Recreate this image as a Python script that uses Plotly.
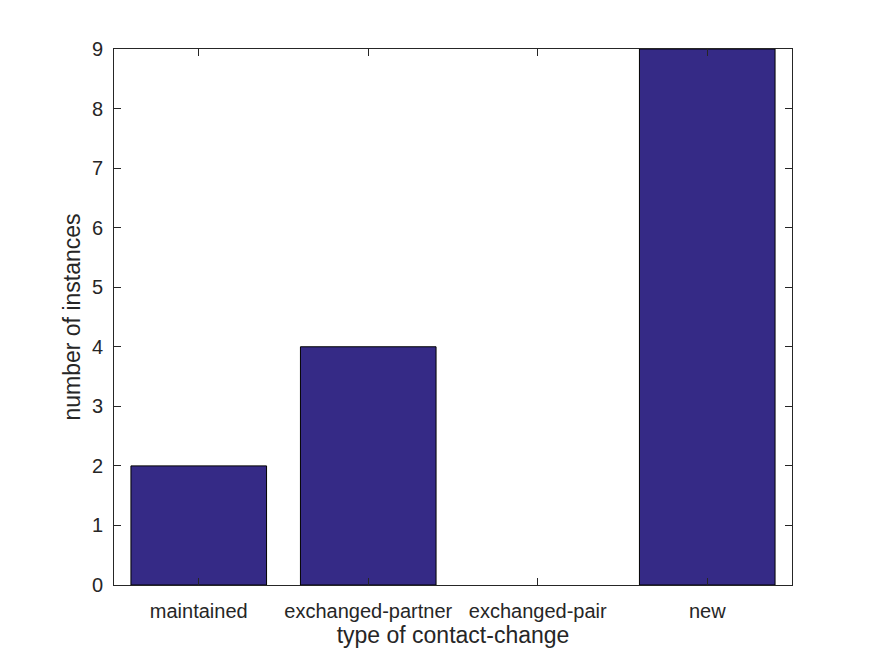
import plotly.graph_objects as go

categories = ["maintained", "exchanged-partner", "exchanged-pair", "new"]
counts = [2, 4, 0, 9]
y_ticks = [0, 1, 2, 3, 4, 5, 6, 7, 8, 9]

x_pos = list(range(1, len(categories) + 1))
edge_widths = [1 if c > 0 else 0 for c in counts]

FONT = "Liberation Sans, Arial, Helvetica, sans-serif"
TXT = "#262626"

fig = go.Figure()
fig.add_trace(go.Bar(
    x=x_pos, y=counts, width=0.8,
    marker=dict(color="#352A86", line=dict(color="black", width=edge_widths)),
))

axis_common = dict(
    showline=True, linecolor=TXT, linewidth=1, mirror="ticks",
    ticks="inside", ticklen=7, tickcolor=TXT, tickwidth=1,
    showgrid=False, zeroline=False,
    tickfont=dict(family=FONT, size=20, color=TXT),
)

fig.update_layout(
    width=875, height=656,
    margin=dict(l=114, r=83, t=49, b=71),
    paper_bgcolor="white", plot_bgcolor="white",
    showlegend=False,
    font=dict(family=FONT, color=TXT),
    xaxis=dict(
        range=[0.5, 4.5], tickmode="array", tickvals=x_pos, ticktext=categories,
        ticklabelstandoff=8,
        title=dict(text="type of contact-change", font=dict(family=FONT, size=23, color=TXT), standoff=5),
        **axis_common,
    ),
    yaxis=dict(
        range=[0, 9], tickmode="array", tickvals=y_ticks,
        ticklabelstandoff=6,
        title=dict(text="number of instances", font=dict(family=FONT, size=23, color=TXT), standoff=4),
        **axis_common,
    ),
)

fig.write_html("out.html", config={"displayModeBar": False},
               post_script="document.body.style.margin='0';")
